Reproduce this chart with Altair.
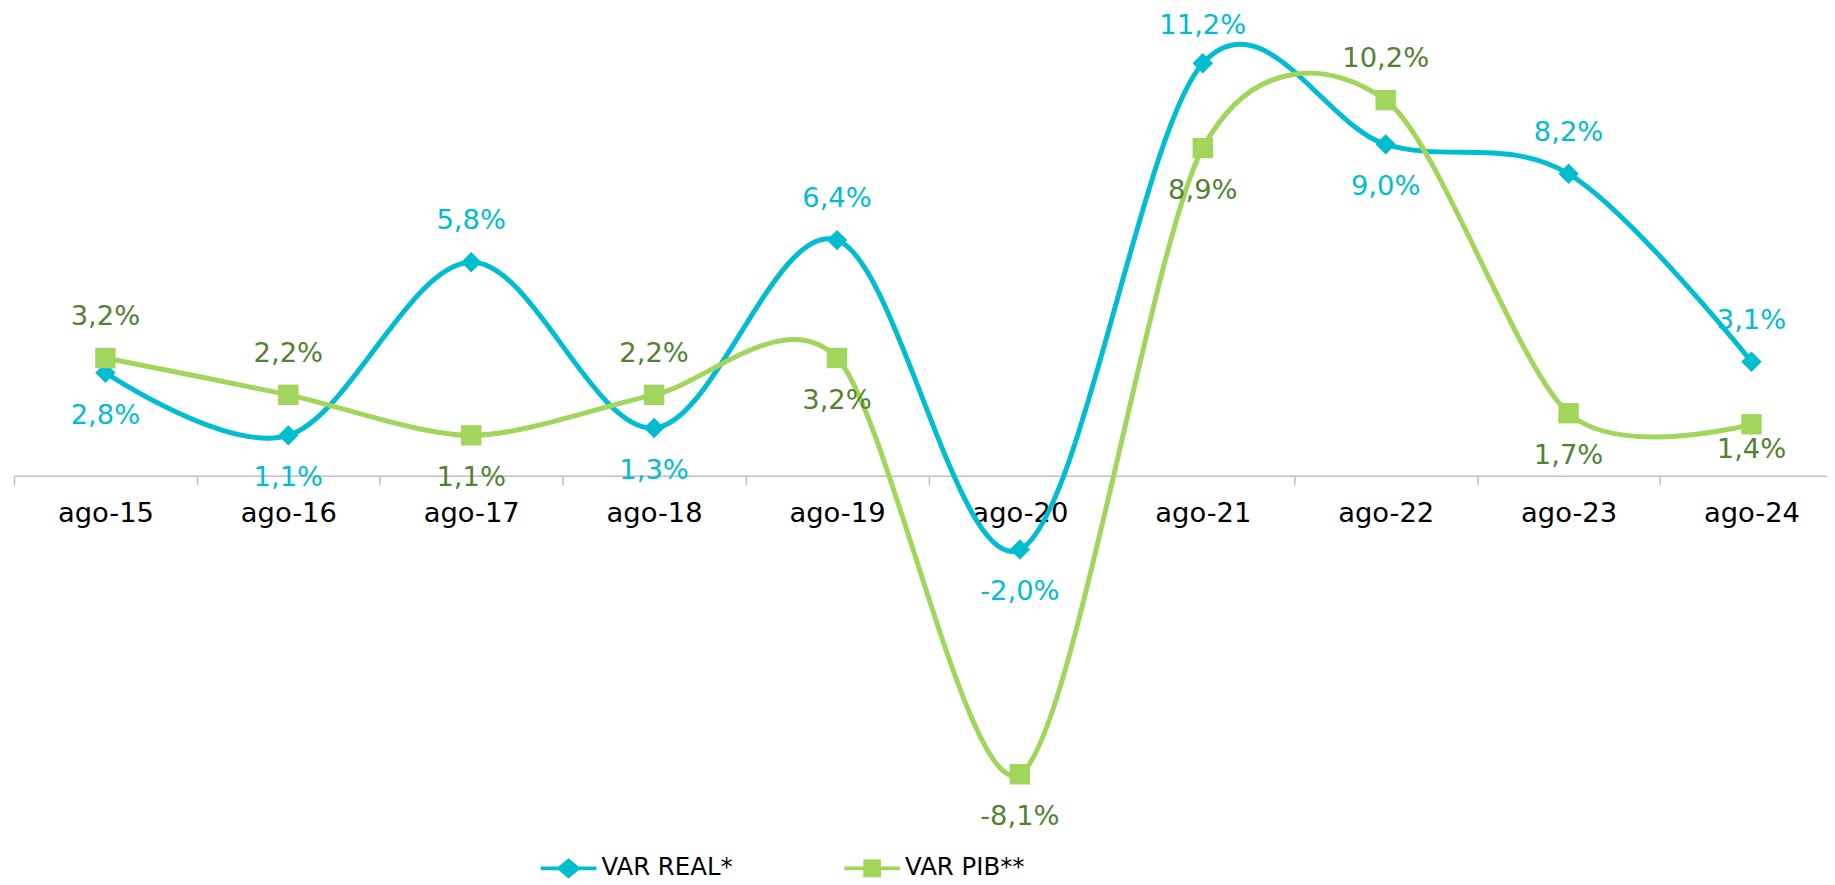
import altair as alt
import pandas as pd

# ---- data ----
categories = ["ago-15", "ago-16", "ago-17", "ago-18", "ago-19",
              "ago-20", "ago-21", "ago-22", "ago-23", "ago-24"]
series_names = ["VAR REAL*", "VAR PIB**"]
var_real = [2.8, 1.1, 5.8, 1.3, 6.4, -2.0, 11.2, 9.0, 8.2, 3.1]
var_pib = [3.2, 2.2, 1.1, 2.2, 3.2, -8.1, 8.9, 10.2, 1.7, 1.4]
# label placement relative to each point
real_label_side = ["below", "below", "above", "below", "above",
                   "below", "top", "below", "above", "above"]
pib_label_side = ["above", "above", "below", "above", "below",
                  "below", "below", "above", "below", "near"]

# ---- styles ----
TEAL = "#00BDD0"
GREEN = "#A2D55B"
DARK_GREEN = "#548235"
FONT = "DejaVu Sans"
SIDE_DY = {"above": -41, "top": -37, "below": 43, "near": 26}

rows = []
for c, v, s in zip(categories, var_real, real_label_side):
    rows.append({"cat": c, "series": series_names[0], "value": v, "side": s})
for c, v, s in zip(categories, var_pib, pib_label_side):
    rows.append({"cat": c, "series": series_names[1], "value": v, "side": s})
df = pd.DataFrame(rows)

x_enc = alt.X(
    "cat:N",
    sort=categories,
    scale=alt.Scale(type="band", domain=categories, range=[0, 1837],
                    paddingInner=0, paddingOuter=0),
    axis=alt.Axis(title=None, labelAngle=0, labelFont=FONT, labelFontSize=27.5,
                  labelColor="#000000", tickBand="extent", tickSize=9,
                  tickColor="#BFBFBF", tickWidth=1.5, domainColor="#BFBFBF",
                  domainWidth=1.5, offset=-370, labelPadding=15, grid=False),
)
y_enc = alt.Y("value:Q", scale=alt.Scale(domain=[-10, 12.541], nice=False, zero=False),
              axis=None)

base = alt.Chart(df).encode(x=x_enc, y=y_enc)

LABEL_EXPR = ("(datum.value < 0 ? '-' : '') + "
              "replace(format(abs(datum.value), '.1f'), '.', ',') + '%'")

def series_layers(name, line_color, label_color, shape, size, tension):
    sub = base.transform_filter(alt.datum.series == name)
    line = sub.mark_line(color=line_color, strokeWidth=5, interpolate="cardinal",
                         tension=tension)
    pts = sub.mark_point(shape=shape, filled=True, size=size, color=line_color, opacity=1)
    lab = sub.transform_calculate(label=LABEL_EXPR)
    txt_kw = dict(font=FONT, fontSize=27.5, color=label_color, baseline="middle", align="center")
    texts = [
        lab.transform_filter(alt.datum.side == side).mark_text(dy=dy, **txt_kw).encode(text="label:N")
        for side, dy in SIDE_DY.items()
    ]
    return [line, pts, *texts]

real_layers = series_layers(series_names[0], TEAL, TEAL, "diamond", 420, 0)
pib_layers = series_layers(series_names[1], GREEN, DARK_GREEN, "square", 420, 0.15)

real_sym = ("M-1,-0.07 L-0.36,-0.07 L0,-0.36 L0.36,-0.07 L1,-0.07 L1,0.07 "
            "L0.36,0.07 L0,0.36 L-0.36,0.07 L-1,0.07 Z")
pib_sym = ("M-1,-0.07 L-0.32,-0.07 L-0.32,-0.32 L0.32,-0.32 L0.32,-0.07 L1,-0.07 "
           "L1,0.07 L0.32,0.07 L0.32,0.32 L-0.32,0.32 L-0.32,0.07 L-1,0.07 Z")

legend = alt.Legend(title=None, orient="none", legendX=529, legendY=830,
                    direction="horizontal", symbolSize=3136, symbolStrokeWidth=0,
                    labelFont=FONT, labelFontSize=24.5, labelColor="#000000",
                    labelOffset=5, columnPadding=112, labelLimit=400)

legend_layer = base.transform_filter("false").mark_point(filled=True, opacity=1).encode(
    color=alt.Color("series:N", scale=alt.Scale(domain=series_names, range=[TEAL, GREEN]),
                    legend=legend),
    shape=alt.Shape("series:N", scale=alt.Scale(domain=series_names, range=[real_sym, pib_sym]),
                    legend=legend),
)

chart = alt.layer(*real_layers, *pib_layers, legend_layer).properties(
    width=1821,
    height=834,
    autosize=alt.AutoSizeParams(type="none"),
    padding={"left": 6, "top": 4, "right": 0, "bottom": 38},
    background="white",
).configure_view(stroke=None)

chart.save("out.html", embed_options={"renderer": "svg", "actions": False})
